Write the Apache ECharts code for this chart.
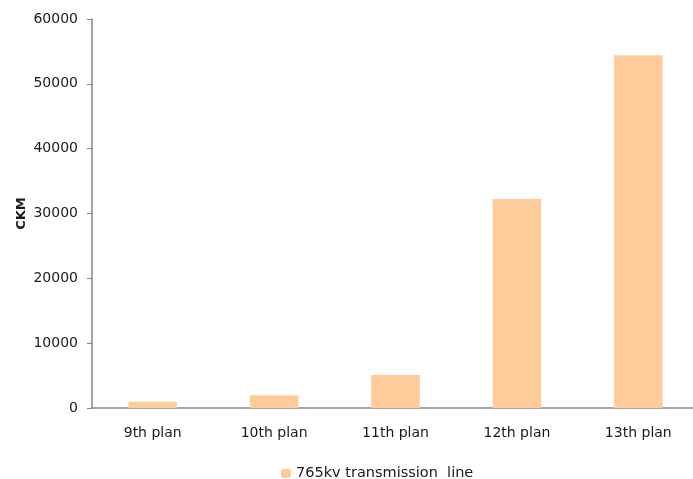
<!DOCTYPE html>
<html>
<head>
<meta charset="utf-8">
<script src="https://cdn.jsdelivr.net/npm/echarts@6/dist/echarts.min.js"></script>
<style>
  html, body { margin: 0; padding: 0; background: #ffffff; }
  #chart { width: 693px; height: 479px; }
</style>
</head>
<body>
<div id="chart"></div>
<script>
// Five-year plan periods and cumulative 765kV line length (circuit km)
const plans = ['9th plan', '10th plan', '11th plan', '12th plan', '13th plan'];
const lineCkm = [950, 1950, 5100, 32250, 54400];
const seriesName = '765kv transmission  line';
const yTicks = { min: 0, max: 60000, step: 10000 };

const chart = echarts.init(document.getElementById('chart'));
const font = 'DejaVu Sans, sans-serif';

chart.setOption({
  animation: false,
  backgroundColor: '#ffffff',
  // plot area runs slightly past the right edge of the canvas
  grid: { left: 92, width: 607, top: 19, height: 389, outerBoundsMode: 'none' },
  legend: {
    data: [seriesName],
    left: 276,
    top: 461,
    itemWidth: 10,
    itemHeight: 9,
    itemGap: 4,
    textStyle: { fontFamily: font, fontSize: 14.5, color: '#1a1a1a' }
  },
  xAxis: {
    type: 'category',
    data: plans,
    axisLine: { lineStyle: { color: '#868686', width: 1.5 } },
    axisTick: { show: false },
    axisLabel: { fontFamily: font, fontSize: 14, color: '#1a1a1a', margin: 18 }
  },
  yAxis: {
    type: 'value',
    min: yTicks.min,
    max: yTicks.max,
    interval: yTicks.step,
    name: 'CKM',
    nameLocation: 'middle',
    nameGap: 64,
    nameMoveOverlap: false,
    nameTextStyle: { fontFamily: font, fontSize: 13, fontWeight: 'bold', color: '#1a1a1a' },
    axisLine: { show: true, lineStyle: { color: '#868686', width: 1.5 } },
    axisTick: { show: true, length: 5, lineStyle: { color: '#868686' } },
    splitLine: { show: false },
    axisLabel: {
      fontFamily: font, fontSize: 14, color: '#1a1a1a', margin: 14,
      formatter: (v) => String(v)
    }
  },
  series: [{
    name: seriesName,
    type: 'bar',
    data: lineCkm,
    barWidth: '40%',
    itemStyle: { color: '#FFCC99' }
  }]
});
</script>
</body>
</html>
